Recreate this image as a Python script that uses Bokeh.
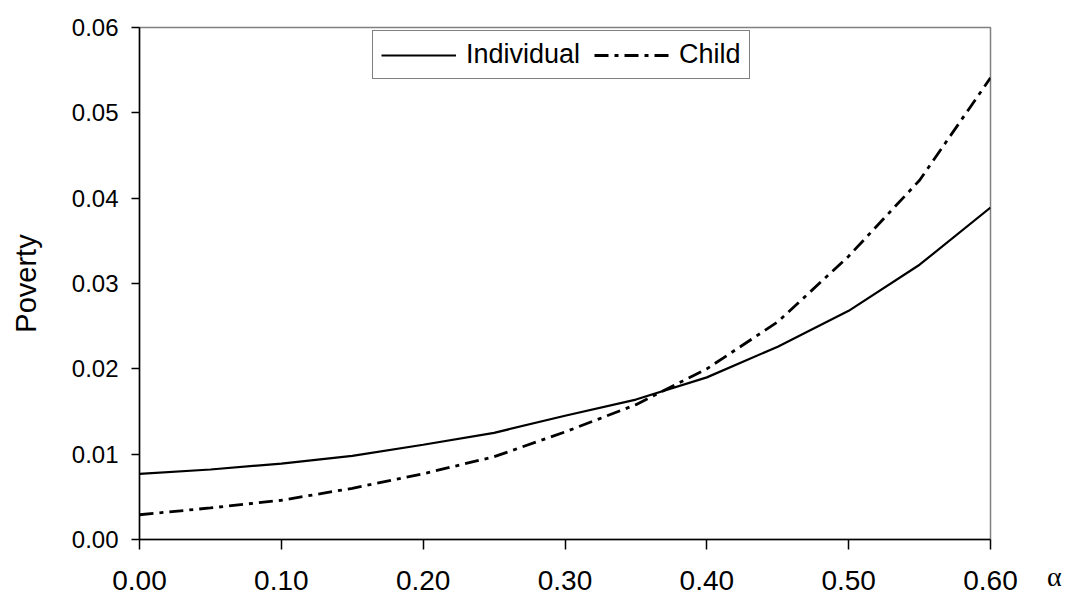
from bokeh.plotting import figure
from bokeh.models import Range1d, FixedTicker, NumeralTickFormatter, Legend, LegendItem
from bokeh.embed import file_html
from bokeh.resources import INLINE

alpha = [0.00, 0.05, 0.10, 0.15, 0.20, 0.25, 0.30, 0.35, 0.40, 0.45, 0.50, 0.55, 0.60]
individual = [0.0077, 0.0082, 0.0089, 0.0098, 0.0111, 0.0125, 0.0145, 0.0164, 0.0190, 0.0226, 0.0268, 0.0322, 0.0389]
child = [0.0029, 0.0037, 0.0046, 0.0060, 0.0077, 0.0097, 0.0126, 0.0158, 0.0200, 0.0255, 0.0332, 0.0421, 0.0541]
x_ticks = [0.0, 0.1, 0.2, 0.3, 0.4, 0.5, 0.6]
y_ticks = [0.0, 0.01, 0.02, 0.03, 0.04, 0.05, 0.06]

FONT = "Liberation Sans"

p = figure(frame_width=851, frame_height=512, output_backend="svg", toolbar_location=None,
           x_range=Range1d(0, 0.6), y_range=Range1d(0, 0.06),
           min_border_left=139, min_border_right=77, min_border_top=27, min_border_bottom=59)
p.grid.visible = False
p.outline_line_color = "#808080"
p.outline_line_width = 1.5

r1 = p.line(alpha, individual, line_color="black", line_width=2.2)
r2 = p.line(alpha, child, line_color="black", line_width=2.8, line_dash="14 6 4 6")

for ax in (p.xaxis[0], p.yaxis[0]):
    ax.axis_line_color = "black"
    ax.axis_line_width = 1.5
    ax.major_tick_line_color = "black"
    ax.major_tick_line_width = 1.5
    ax.minor_tick_line_color = None
    ax.major_tick_in = 0
    ax.major_label_text_font = FONT
    ax.major_label_text_color = "black"
    ax.formatter = NumeralTickFormatter(format="0.00")

p.xaxis.ticker = FixedTicker(ticks=x_ticks)
p.yaxis.ticker = FixedTicker(ticks=y_ticks)
p.xaxis.major_tick_out = 10
p.yaxis.major_tick_out = 8
p.xaxis.major_label_text_font_size = "28px"
p.yaxis.major_label_text_font_size = "24px"
p.xaxis.major_label_standoff = 21
p.yaxis.major_label_standoff = 13

p.yaxis.axis_label = "Poverty"
p.yaxis.axis_label_text_font = FONT
p.yaxis.axis_label_text_font_size = "29px"
p.yaxis.axis_label_text_font_style = "normal"
p.yaxis.axis_label_text_color = "black"
p.yaxis.axis_label_standoff = 27

legend = Legend(items=[LegendItem(label="Individual", renderers=[r1]),
                       LegendItem(label="Child", renderers=[r2])],
                orientation="horizontal", location=(233, 460))
legend.label_text_font = FONT
legend.label_text_font_size = "27px"
legend.label_text_color = "black"
legend.glyph_width = 75
legend.glyph_height = 30
legend.label_standoff = 10
legend.spacing = 14
legend.padding = 8
legend.margin = 0
legend.border_line_color = "black"
legend.border_line_width = 1
legend.background_fill_alpha = 1
p.add_layout(legend)

# x-axis name "α", set to the right of the last tick label
r_dummy = p.line([], [], line_alpha=0)
alpha_leg = Legend(items=[LegendItem(label="α", renderers=[r_dummy])],
                   location=(56, -54))
alpha_leg.label_text_font = "Liberation Serif"
alpha_leg.label_text_font_size = "28px"
alpha_leg.label_text_color = "black"
alpha_leg.glyph_width = 1
alpha_leg.glyph_height = 30
alpha_leg.label_standoff = 0
alpha_leg.padding = 0
alpha_leg.margin = 0
alpha_leg.border_line_color = None
alpha_leg.background_fill_alpha = 0
p.add_layout(alpha_leg, "right")

open("out.html", "w").write(file_html(p, INLINE))
